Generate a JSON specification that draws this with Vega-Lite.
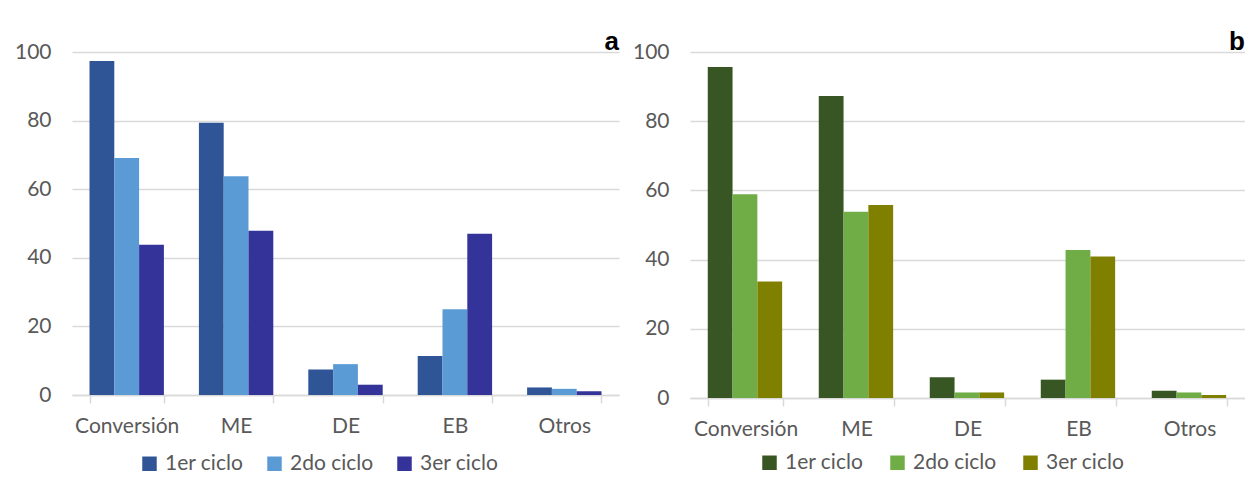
{
  "$schema": "https://vega.github.io/schema/vega-lite/v6.json",
  "padding": {"left": 14, "top": 29, "right": 0, "bottom": 0},
  "background": "white",
  "spacing": 13,
  "datasets": {
    "a": [
      {"categoria": "Conversión", "ciclo": "1er ciclo", "valor": 97.4},
      {"categoria": "Conversión", "ciclo": "2do ciclo", "valor": 69.1},
      {"categoria": "Conversión", "ciclo": "3er ciclo", "valor": 43.8},
      {"categoria": "ME", "ciclo": "1er ciclo", "valor": 79.4},
      {"categoria": "ME", "ciclo": "2do ciclo", "valor": 63.8},
      {"categoria": "ME", "ciclo": "3er ciclo", "valor": 47.9},
      {"categoria": "DE", "ciclo": "1er ciclo", "valor": 7.4},
      {"categoria": "DE", "ciclo": "2do ciclo", "valor": 9.0},
      {"categoria": "DE", "ciclo": "3er ciclo", "valor": 3.0},
      {"categoria": "EB", "ciclo": "1er ciclo", "valor": 11.4},
      {"categoria": "EB", "ciclo": "2do ciclo", "valor": 25.0},
      {"categoria": "EB", "ciclo": "3er ciclo", "valor": 47.0},
      {"categoria": "Otros", "ciclo": "1er ciclo", "valor": 2.2},
      {"categoria": "Otros", "ciclo": "2do ciclo", "valor": 1.8},
      {"categoria": "Otros", "ciclo": "3er ciclo", "valor": 1.1}
    ],
    "b": [
      {"categoria": "Conversión", "ciclo": "1er ciclo", "valor": 95.7},
      {"categoria": "Conversión", "ciclo": "2do ciclo", "valor": 58.9},
      {"categoria": "Conversión", "ciclo": "3er ciclo", "valor": 33.7},
      {"categoria": "ME", "ciclo": "1er ciclo", "valor": 87.3},
      {"categoria": "ME", "ciclo": "2do ciclo", "valor": 53.8},
      {"categoria": "ME", "ciclo": "3er ciclo", "valor": 55.8},
      {"categoria": "DE", "ciclo": "1er ciclo", "valor": 6.0},
      {"categoria": "DE", "ciclo": "2do ciclo", "valor": 1.6},
      {"categoria": "DE", "ciclo": "3er ciclo", "valor": 1.6},
      {"categoria": "EB", "ciclo": "1er ciclo", "valor": 5.3},
      {"categoria": "EB", "ciclo": "2do ciclo", "valor": 42.8},
      {"categoria": "EB", "ciclo": "3er ciclo", "valor": 40.9},
      {"categoria": "Otros", "ciclo": "1er ciclo", "valor": 2.1},
      {"categoria": "Otros", "ciclo": "2do ciclo", "valor": 1.6},
      {"categoria": "Otros", "ciclo": "3er ciclo", "valor": 0.9}
    ]
  },
  "hconcat": [
    {
      "data": {"name": "a"},
      "width": 547,
      "height": 343,
      "title": {"text": "a", "anchor": "end", "fontSize": 26, "fontWeight": "bold", "font": "Liberation Sans", "color": "#000000", "offset": -14},
      "mark": {"type": "bar"},
      "encoding": {
        "x": {"field": "categoria", "type": "nominal", "title": null,
          "sort": ["Conversión", "ME", "DE", "EB", "Otros"],
          "scale": {"paddingInner": 0.32, "paddingOuter": 0.16}},
        "xOffset": {"field": "ciclo", "type": "nominal", "sort": ["1er ciclo", "2do ciclo", "3er ciclo"], "scale": {"paddingInner": 0, "paddingOuter": 0}},
        "y": {"field": "valor", "type": "quantitative", "title": null,
          "scale": {"domain": [0, 100], "nice": false},
          "axis": {"values": [0, 20, 40, 60, 80, 100]}},
        "color": {"field": "ciclo", "type": "nominal",
          "scale": {"domain": ["1er ciclo", "2do ciclo", "3er ciclo"], "range": ["#2F5597", "#5B9BD5", "#333399"]},
          "legend": {"orient": "none", "legendX": 67, "legendY": 401, "direction": "horizontal", "title": null, "columnPadding": 20}}
      }
    },
    {
      "data": {"name": "b"},
      "width": 555,
      "height": 346,
      "title": {"text": "b", "anchor": "end", "fontSize": 26, "fontWeight": "bold", "font": "Liberation Sans", "color": "#000000", "offset": -14},
      "mark": {"type": "bar"},
      "encoding": {
        "x": {"field": "categoria", "type": "nominal", "title": null,
          "sort": ["Conversión", "ME", "DE", "EB", "Otros"],
          "scale": {"paddingInner": 0.32, "paddingOuter": 0.16}},
        "xOffset": {"field": "ciclo", "type": "nominal", "sort": ["1er ciclo", "2do ciclo", "3er ciclo"], "scale": {"paddingInner": 0, "paddingOuter": 0}},
        "y": {"field": "valor", "type": "quantitative", "title": null,
          "scale": {"domain": [0, 100], "nice": false},
          "axis": {"values": [0, 20, 40, 60, 80, 100]}},
        "color": {"field": "ciclo", "type": "nominal",
          "scale": {"domain": ["1er ciclo", "2do ciclo", "3er ciclo"], "range": ["#375623", "#70AD47", "#808000"]},
          "legend": {"orient": "none", "legendX": 69, "legendY": 400, "direction": "horizontal", "title": null, "columnPadding": 23}}
      }
    }
  ],
  "resolve": {"scale": {"color": "independent"}, "legend": {"color": "independent"}},
  "config": {
    "view": {"stroke": null},
    "font": "Lato",
    "axisX": {"labelAngle": 0, "labelFontSize": 21, "labelColor": "#595959", "labelFont": "Lato",
      "domainColor": "#d9d9d9", "domainWidth": 1.5, "tickColor": "#d9d9d9", "tickWidth": 1.5, "tickSize": 8, "tickBand": "extent",
      "labelPadding": 12, "grid": false},
    "axisY": {"labelFontSize": 21, "labelColor": "#595959", "labelFont": "Lato", "domain": false, "ticks": false,
      "labelPadding": 21, "gridColor": "#d9d9d9", "gridWidth": 1.5},
    "legend": {"labelFontSize": 21, "labelColor": "#595959", "labelFont": "Lato", "symbolType": "square", "symbolSize": 210,
      "symbolStrokeWidth": 0, "labelOffset": 5}
  }
}
